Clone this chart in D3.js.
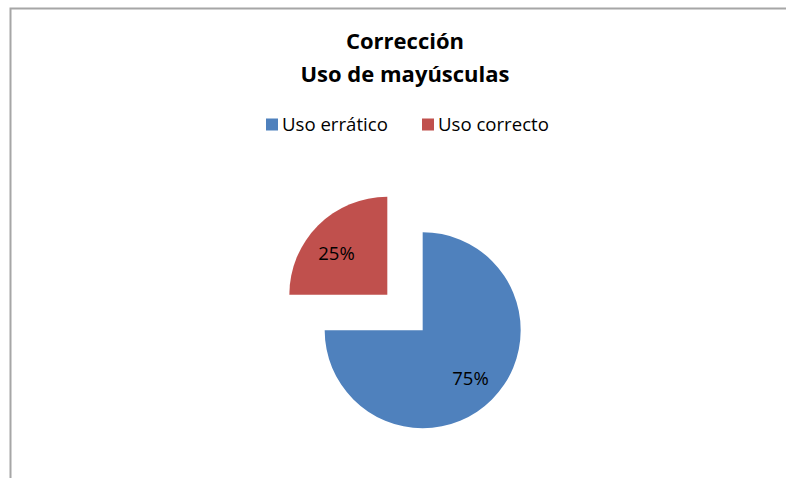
<!DOCTYPE html>
<html lang='es'>
	<head>
		<meta charset='utf-8'>
		<title>Corrección - Uso de mayúsculas</title>
		<script src="https://d3js.org/d3.v7.min.js"></script>
		<style type="text/css">
			body { margin: 0; background: #fff; }
			text { font-family: "Open Sans", Lato, sans-serif; fill: #000; }
		</style>
	</head>
	<body>
		<script type='text/javascript'>
			//Chart data
			var titleLines = ["Corrección", "Uso de mayúsculas"];
			var categories = ["Uso errático", "Uso correcto"];
			var values = [75, 25];
			var colors = ["#4F81BD", "#C0504D"];

			//Width and height
			var w = 786;
			var h = 478;

			var svg = d3.select("body")
						.append("svg")
						.attr("width", w)
						.attr("height", h);

			//Chart area border (only top and left visible in the crop)
			svg.append("path")
			   .attr("d", "M10.5," + h + "V8.5H" + w)
			   .attr("fill", "none")
			   .attr("stroke", "#a6a6a6")
			   .attr("stroke-width", 2);

			//Title
			svg.selectAll(".title")
			   .data(titleLines)
			   .enter()
			   .append("text")
			   .attr("class", "title")
			   .attr("x", 405)
			   .attr("y", function(d, i) { return 48.5 + i * 33; })
			   .attr("text-anchor", "middle")
			   .style("font-weight", "bold")
			   .style("font-size", "22px")
			   .text(function(d) { return d; });

			//Legend
			var legendX = [266, 422];
			var legend = svg.selectAll(".legend")
							.data(categories)
							.enter()
							.append("g")
							.attr("class", "legend")
							.attr("transform", function(d, i) { return "translate(" + legendX[i] + ",118.5)"; });

			legend.append("rect")
				  .attr("width", 12)
				  .attr("height", 12)
				  .attr("fill", function(d, i) { return colors[i]; });

			legend.append("text")
				  .attr("x", 16)
				  .attr("y", 12)
				  .style("font-size", "18.6px")
				  .text(function(d) { return d; });

			//Pie
			var cx = 405, cy = 312.5, r = 98, explode = 25;

			var pie = d3.pie().sort(null)(values);
			var arc = d3.arc().innerRadius(0).outerRadius(r);

			var slices = svg.selectAll(".slice")
							.data(pie)
							.enter()
							.append("g")
							.attr("class", "slice")
							.attr("transform", function(d) {
								var a = (d.startAngle + d.endAngle) / 2;
								return "translate(" + (cx + explode * Math.sin(a)) + "," + (cy - explode * Math.cos(a)) + ")";
							});

			slices.append("path")
				  .attr("d", arc)
				  .attr("fill", function(d, i) { return colors[i]; });

			var labelArc = d3.arc().innerRadius(r * 0.69).outerRadius(r * 0.69);
			var total = d3.sum(values);

			slices.append("text")
				  .attr("transform", function(d) { return "translate(" + labelArc.centroid(d) + ")"; })
				  .attr("text-anchor", "middle")
				  .attr("dx", function(d, i) { return i === 1 ? -3 : 0; })
				  .attr("dy", function(d, i) { return i === 1 ? "0.7em" : "0.36em"; })
				  .style("font-size", "18.5px")
				  .text(function(d) { return Math.round(d.value / total * 100) + "%"; });
		</script>
	</body>
</html>
